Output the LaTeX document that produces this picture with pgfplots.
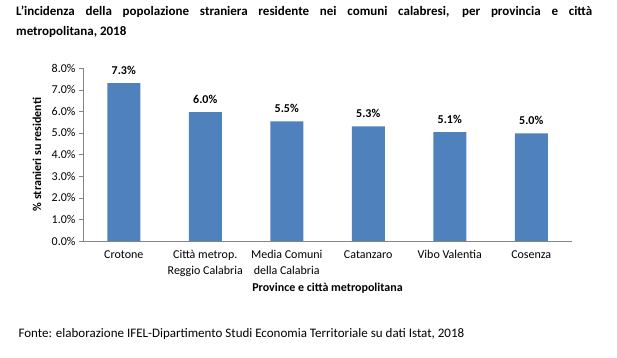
\documentclass[border=0pt]{standalone}
\usepackage{pgfplots}
\pgfplotsset{compat=1.18}
\usepackage{fontspec}
\setmainfont{Carlito}
\definecolor{barblue}{HTML}{4F81BD}
\definecolor{axgray}{HTML}{868686}
\begin{document}
\begin{tikzpicture}
\useasboundingbox (0pt,0pt) rectangle (617pt,-357pt);
\node[anchor=north west, text width=576pt, align=justify, inner sep=0pt,
      font=\fontsize{13}{20}\selectfont\bfseries] at (16pt,-5.5pt)
  {L’incidenza della popolazione straniera residente nei comuni calabresi, per provincia e città\linebreak metropolitana, 2018};
\begin{axis}[
  at={(83pt,-241pt)}, anchor=south west,
  scale only axis, width=489pt, height=173pt,
  xmin=-0.5, xmax=5.5, ymin=0, ymax=8,
  axis lines=left,
  axis line style={-, axgray},
  ytick={0,1,...,8},
  yticklabel={\pgfmathprintnumber[fixed,fixed zerofill,precision=1]{\tick}\%},
  /pgf/number format/assume math mode=true,
  tick align=outside,
  major tick length=4pt,
  y tick style={axgray},
  xtick={0,...,5},
  x tick style={draw=none},
  extra x ticks={-0.5,0.5,1.5,2.5,3.5,4.5,5.5},
  extra x tick labels={},
  extra x tick style={tick style={draw=axgray}},
  xticklabels={Crotone, {Città metrop.\\Reggio Calabria}, {Media Comuni\\della Calabria}, Catanzaro, Vibo Valentia, Cosenza},
  xticklabel style={align=center, font=\fontsize{12}{15.7}\selectfont, anchor=north, yshift=-2pt},
  yticklabel style={font=\fontsize{12}{14}\selectfont},
  xlabel={\bfseries Province e città metropolitana},
  xlabel style={font=\fontsize{12}{14}\selectfont, at={(axis description cs:0.5,0)}, anchor=center, yshift=-47pt},
  ybar, bar width=33pt,
  nodes near coords,
  point meta=explicit symbolic,
  nodes near coords style={font=\fontsize{12}{14}\selectfont\bfseries, anchor=south, yshift=5pt},
  clip=false,
]
\addplot[fill=barblue, draw=none] coordinates {
  (0,7.3) [7.3\%]
  (1,5.96) [6.0\%]
  (2,5.53) [5.5\%]
  (3,5.3) [5.3\%]
  (4,5.04) [5.1\%]
  (5,4.98) [5.0\%]
};
\end{axis}
\node[rotate=90, anchor=center, font=\fontsize{12}{14}\selectfont\bfseries] at (37pt,-154.5pt)
  {\% stranieri su residenti};
\node[anchor=west, font=\fontsize{13}{15}\selectfont] at (15pt,-334.5pt)
  {Fonte: elaborazione IFEL-Dipartimento Studi Economia Territoriale su dati Istat, 2018};
\end{tikzpicture}
\end{document}
